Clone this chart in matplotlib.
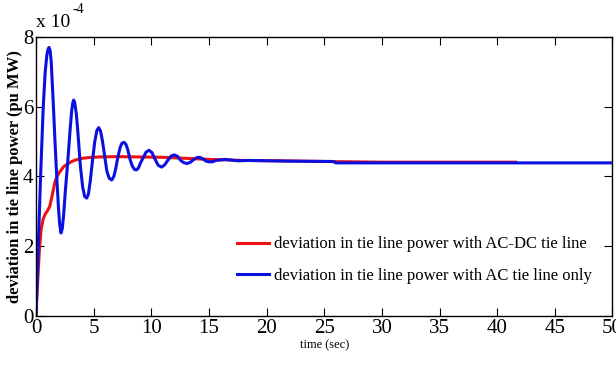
import matplotlib.pyplot as plt

# values, y in units of 1e-4 pu MW
t_acdc = [0, 0.15, 0.3, 0.45, 0.64, 0.8, 1.0, 1.2, 1.4, 1.65, 1.85, 2.1, 2.4, 2.7,
          3.1, 3.5, 4.0, 4.5, 5.5, 7.0, 9.0, 11.0, 13.0, 15.0, 18.0, 21.0, 25.0,
          30.0, 35.0, 41.6]
p_acdc = [0, 1.0, 1.9, 2.5, 2.8, 2.92, 3.02, 3.15, 3.45, 3.85, 4.02, 4.15, 4.28, 4.35,
          4.43, 4.48, 4.52, 4.54, 4.56, 4.57, 4.56, 4.55, 4.52, 4.49, 4.46, 4.45, 4.43,
          4.41, 4.41, 4.41]

t_ac = [0, 0.2, 0.4, 0.63, 0.8, 0.95, 1.05, 1.13, 1.22, 1.32, 1.5, 1.65, 1.8,
        1.95, 2.05, 2.17, 2.28, 2.4, 2.55, 2.75, 2.95, 3.1, 3.2, 3.27, 3.35,
        3.5, 3.65, 3.85, 4.05, 4.22, 4.4, 4.55, 4.7, 4.9, 5.1, 5.28, 5.44,
        5.6, 5.75, 5.95, 6.15, 6.35, 6.57, 6.75, 6.9, 7.1, 7.3, 7.45, 7.64,
        7.8, 7.95, 8.15, 8.35, 8.55, 8.72, 8.9, 9.05, 9.27, 9.55, 9.8, 10.05,
        10.35, 10.6, 10.9, 11.15, 11.45, 11.7, 12.0, 12.3, 12.55, 12.8, 13.1,
        13.4, 13.65, 13.95, 14.2, 14.5, 14.75, 15.05, 15.3, 15.6, 16.4, 17.5,
        18.5, 20.0, 22.0, 25.8, 26.0, 30.0, 40.0, 50.0]
p_ac = [0, 2.0, 4.0, 6.0, 7.0, 7.5, 7.65, 7.7, 7.62, 7.3, 6.1, 5.0, 4.0,
        3.1, 2.65, 2.38, 2.5, 2.9, 3.6, 4.4, 5.3, 5.9, 6.12, 6.19, 6.13,
        5.8, 5.2, 4.3, 3.7, 3.43, 3.38, 3.5, 3.85, 4.45, 5.0, 5.32, 5.40,
        5.3, 5.05, 4.6, 4.15, 3.95, 3.90, 4.0, 4.2, 4.55, 4.83, 4.95, 4.98,
        4.92, 4.78, 4.5, 4.3, 4.2, 4.19, 4.25, 4.38, 4.52, 4.7, 4.75, 4.69,
        4.48, 4.32, 4.27, 4.33, 4.47, 4.58, 4.62, 4.57, 4.46, 4.4, 4.37,
        4.41, 4.48, 4.54, 4.55, 4.5, 4.44, 4.42, 4.42, 4.46, 4.49, 4.45,
        4.46, 4.45, 4.44, 4.43, 4.39, 4.39, 4.39, 4.39]

xticks = [0, 5, 10, 15, 20, 25, 30, 35, 40, 45, 50]
yticks = [0, 2, 4, 6, 8]

plt.rcParams["font.family"] = ["Liberation Serif", "DejaVu Serif"]

fig = plt.figure(figsize=(6.16, 3.66), dpi=100)
ax = fig.add_axes([0.0584, 0.1366, 0.9359, 0.7624])

ax.plot(t_acdc, p_acdc, color="#ee1111", lw=2.2,
        label="deviation in tie line power with AC-DC tie line")
ax.plot(t_ac, p_ac, color="#0a10e0", lw=2.2,
        label="deviation in tie line power with AC tie line only")

ax.set_xlim(0, 50)
ax.set_ylim(0, 8)
ax.set_xticks(xticks)
ax.set_yticks(yticks)
ax.tick_params(direction="in", top=True, right=True, length=6, width=0.8,
               labelsize=15, pad=2)
for s in ax.spines.values():
    s.set_linewidth(1.0)

ax.set_xlabel("time (sec)", fontsize=9, labelpad=1)
ax.set_ylabel("deviation in tie line power (pu MW)", fontsize=12,
              fontweight="bold", labelpad=0)

fig.text(0.058, 0.915, "x 10", fontsize=14, ha="left", va="bottom")
fig.text(0.118, 0.955, "-4", fontsize=10, ha="left", va="bottom")

ax.legend(loc="lower right", bbox_to_anchor=(0.975, 0.09), frameon=False,
          fontsize=12, handlelength=1.9, handletextpad=0.3, labelspacing=0.95,
          borderaxespad=0)

fig.savefig("out.png", dpi=100)
